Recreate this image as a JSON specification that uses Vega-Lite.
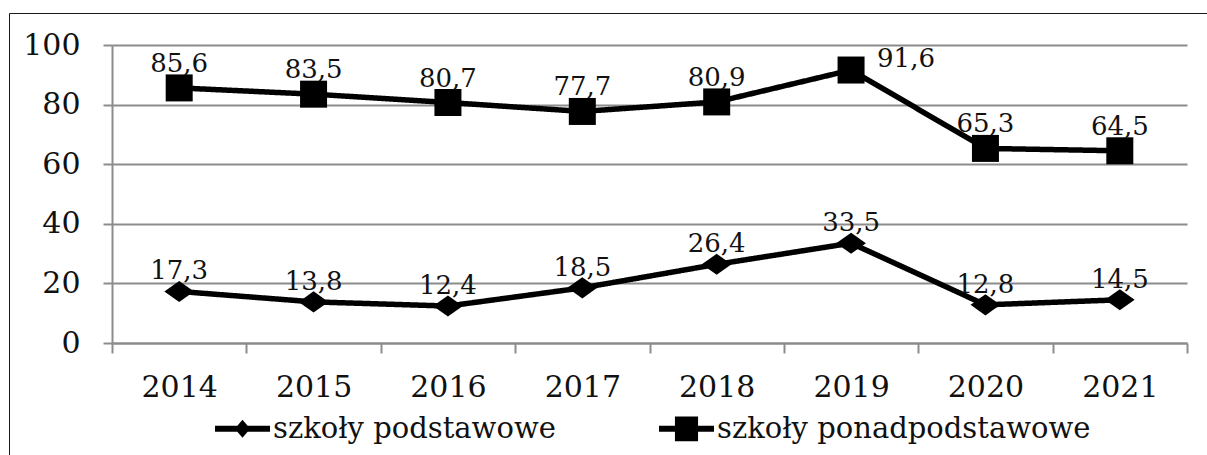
{
  "$schema": "https://vega.github.io/schema/vega-lite/v6.json",
  "width": 1075,
  "height": 298,
  "autosize": {"type": "none"},
  "padding": {"left": 112, "top": 45, "right": 20, "bottom": 112},
  "background": "white",
  "config": {
    "view": {"stroke": null},
    "font": "DejaVu Serif",
    "locale": {"number": {"decimal": ",", "thousands": " ", "grouping": [3], "currency": ["", " zł"]}}
  },
  "data": {
    "values": [
      {"rok": 2014, "seria": "szkoły podstawowe", "wartosc": 17.3},
      {"rok": 2015, "seria": "szkoły podstawowe", "wartosc": 13.8},
      {"rok": 2016, "seria": "szkoły podstawowe", "wartosc": 12.4},
      {"rok": 2017, "seria": "szkoły podstawowe", "wartosc": 18.5},
      {"rok": 2018, "seria": "szkoły podstawowe", "wartosc": 26.4},
      {"rok": 2019, "seria": "szkoły podstawowe", "wartosc": 33.5},
      {"rok": 2020, "seria": "szkoły podstawowe", "wartosc": 12.8},
      {"rok": 2021, "seria": "szkoły podstawowe", "wartosc": 14.5},
      {"rok": 2014, "seria": "szkoły ponadpodstawowe", "wartosc": 85.6},
      {"rok": 2015, "seria": "szkoły ponadpodstawowe", "wartosc": 83.5},
      {"rok": 2016, "seria": "szkoły ponadpodstawowe", "wartosc": 80.7},
      {"rok": 2017, "seria": "szkoły ponadpodstawowe", "wartosc": 77.7},
      {"rok": 2018, "seria": "szkoły ponadpodstawowe", "wartosc": 80.9},
      {"rok": 2019, "seria": "szkoły ponadpodstawowe", "wartosc": 91.6},
      {"rok": 2020, "seria": "szkoły ponadpodstawowe", "wartosc": 65.3},
      {"rok": 2021, "seria": "szkoły ponadpodstawowe", "wartosc": 64.5}
    ]
  },
  "encoding": {
    "x": {
      "field": "rok",
      "type": "ordinal",
      "scale": {"type": "band", "paddingInner": 0, "paddingOuter": 0},
      "axis": {
        "title": null,
        "labelAngle": 0,
        "tickBand": "extent",
        "domainColor": "#8c8c8c",
        "domainWidth": 2,
        "tickColor": "#8c8c8c",
        "tickWidth": 2,
        "tickSize": 10,
        "labelPadding": 19,
        "labelFont": "DejaVu Serif",
        "labelFontSize": 30,
        "labelColor": "#111",
        "grid": false
      }
    },
    "y": {
      "field": "wartosc",
      "type": "quantitative",
      "scale": {"domain": [0, 100], "nice": false},
      "axis": {
        "title": null,
        "values": [0, 20, 40, 60, 80, 100],
        "grid": true,
        "gridColor": "#8c8c8c",
        "gridWidth": 2,
        "gridOpacity": 1,
        "domainColor": "#8c8c8c",
        "domainWidth": 2,
        "tickColor": "#8c8c8c",
        "tickWidth": 2,
        "tickSize": 9,
        "labelPadding": 23,
        "labelFont": "DejaVu Serif",
        "labelFontSize": 30,
        "labelColor": "#111"
      }
    }
  },
  "layer": [
    {
      "mark": {"type": "line", "color": "#000", "strokeWidth": 5.5},
      "encoding": {
        "detail": {"field": "seria", "type": "nominal"},
        "strokeDash": {
          "datum": "ramka",
          "scale": {"range": [[1, 0]]},
          "legend": {
            "orient": "none",
            "legendX": -103,
            "legendY": -32,
            "padding": 700,
            "strokeColor": "#1a1a1a",
            "title": null,
            "labelExpr": "''",
            "labelFontSize": 1,
            "symbolOpacity": 0,
            "symbolSize": 1,
            "encode": {"legend": {"update": {"strokeWidth": {"value": 3}}}}
          }
        }
      }
    },
    {
      "mark": {"type": "point", "filled": true, "opacity": 1, "color": "#000", "size": 729},
      "encoding": {
        "shape": {
          "condition": {"test": "datum.seria === 'szkoły podstawowe'", "value": "M-1.1,0L0,-0.78L1.1,0L0,0.78Z"},
          "value": "M-1,-1H1V1H-1Z"
        }
      }
    },
    {
      "mark": {"type": "point", "filled": true, "opacity": 1, "color": "#000", "size": 0},
      "encoding": {
        "shape": {
          "field": "seria",
          "type": "nominal",
          "scale": {
            "domain": ["szkoły podstawowe", "szkoły ponadpodstawowe"],
            "range": ["M-1,-0.11H1V0.11H-1Z M-0.28,0L0,-0.33L0.28,0L0,0.33Z", "M-1,-0.11H1V0.11H-1Z M-0.42,-0.45H0.42V0.45H-0.42Z"]
          },
          "legend": {
            "orient": "none",
            "direction": "horizontal",
            "legendX": 103,
            "legendY": 356,
            "padding": 0,
            "title": null,
            "symbolSize": 3025,
            "symbolOpacity": 1,
            "symbolFillColor": "#000",
            "symbolStrokeColor": "#000",
            "symbolStrokeWidth": 0,
            "labelFont": "DejaVu Serif",
            "labelFontSize": 29,
            "labelColor": "#111",
            "labelLimit": 800,
            "labelOffset": 3,
            "columnPadding": 103
          }
        }
      }
    },
    {
      "transform": [{"filter": "datum.seria === 'szkoły ponadpodstawowe' && datum.rok !== 2019"}],
      "mark": {"type": "text", "font": "DejaVu Serif", "fontSize": 26, "color": "#111", "align": "center", "baseline": "alphabetic", "dy": -16},
      "encoding": {"text": {"field": "wartosc", "type": "quantitative", "format": ".1f"}}
    },
    {
      "transform": [{"filter": "datum.seria === 'szkoły ponadpodstawowe' && datum.rok === 2019"}],
      "mark": {"type": "text", "font": "DejaVu Serif", "fontSize": 26, "color": "#111", "align": "left", "baseline": "alphabetic", "dx": 26, "dy": -3},
      "encoding": {"text": {"field": "wartosc", "type": "quantitative", "format": ".1f"}}
    },
    {
      "transform": [{"filter": "datum.seria === 'szkoły podstawowe'"}],
      "mark": {"type": "text", "font": "DejaVu Serif", "fontSize": 26, "color": "#111", "align": "center", "baseline": "alphabetic", "dy": -12},
      "encoding": {"text": {"field": "wartosc", "type": "quantitative", "format": ".1f"}}
    }
  ]
}
